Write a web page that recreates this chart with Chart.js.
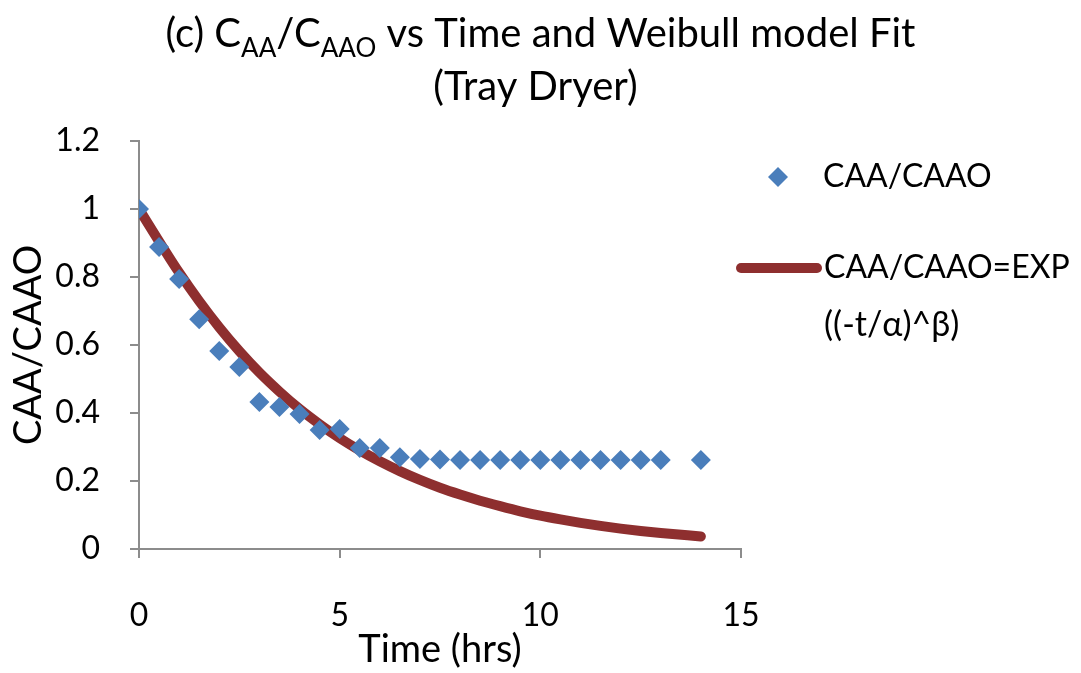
<!DOCTYPE html>
<html>
<head>
<meta charset="utf-8">
<script src="https://cdn.jsdelivr.net/npm/chart.js@4.4.0/dist/chart.umd.min.js"></script>
<style>
html, body { margin: 0; padding: 0; background: #fff; }
#wrap { width: 1081px; height: 673px; }
</style>
</head>
<body>
<div id="wrap"><canvas id="weibullChart"></canvas></div>
<script>
// measured CAA/CAAO values
const timeHrs = [0, 0.5, 1, 1.5, 2, 2.5, 3, 3.5, 4, 4.5, 5, 5.5, 6, 6.5, 7, 7.5, 8, 8.5, 9, 9.5, 10, 10.5, 11, 11.5, 12, 12.5, 13, 14]
const caaRatio = [1.0, 0.888, 0.794, 0.676, 0.582, 0.535, 0.432, 0.418, 0.397, 0.350, 0.353, 0.297, 0.297, 0.270, 0.265, 0.263, 0.262, 0.262, 0.262, 0.262, 0.262, 0.262, 0.262, 0.262, 0.262, 0.262, 0.262, 0.262]

// Weibull fit curve
const fitTime = [0, 0.5, 1, 1.5, 2, 2.5, 3, 3.5, 4, 4.5, 5, 5.5, 6, 6.5, 7, 7.5, 8, 8.5, 9, 9.5, 10, 10.5, 11, 11.5, 12, 12.5, 13, 14]
const fitRatio = [1.0, 0.905, 0.813, 0.729, 0.652, 0.582, 0.519, 0.463, 0.412, 0.367, 0.326, 0.290, 0.258, 0.229, 0.203, 0.180, 0.160, 0.142, 0.126, 0.111, 0.098, 0.087, 0.077, 0.068, 0.060, 0.053, 0.047, 0.037]

const seriesLabels = ['CAA/CAAO', 'CAA/CAAO=EXP ((-t/α)^β)']

const fontFamily = 'Lato, "Open Sans", sans-serif'
const axisGray = '#8c8c8c'

// title with subscripts
const titlePlugin = {
    id: 'subTitle',
    afterDraw(chart) {
        const ctx = chart.ctx
        const parts = [
            { t: '(c) C', sub: false },
            { t: 'AA', sub: true },
            { t: '/C', sub: false },
            { t: 'AAO', sub: true },
            { t: ' vs Time and Weibull model Fit', sub: false }
        ]
        const big = '40px ' + fontFamily
        const small = '26px ' + fontFamily
        ctx.save()
        ctx.fillStyle = '#000'
        ctx.textBaseline = 'alphabetic'
        let total = 0
        parts.forEach(p => {
            ctx.font = p.sub ? small : big
            p.w = ctx.measureText(p.t).width
            total += p.w
        })
        let x = chart.width / 2 - total / 2
        parts.forEach(p => {
            ctx.font = p.sub ? small : big
            ctx.textAlign = 'left'
            ctx.fillText(p.t, x, p.sub ? 57 : 47)
            x += p.w
        })
        ctx.font = big
        ctx.textAlign = 'center'
        ctx.fillText('(Tray Dryer)', chart.width / 2 - 5, 100)
        ctx.restore()
    }
}

// legend on the right
const legendPlugin = {
    id: 'sideLegend',
    afterDraw(chart) {
        const ctx = chart.ctx
        const ds = chart.data.datasets
        const left = chart.chartArea.right
        ctx.save()
        ctx.font = '32px ' + fontFamily
        ctx.fillStyle = '#000'
        ctx.textBaseline = 'middle'
        ctx.textAlign = 'left'

        // diamond
        const cx = left + 37, cy = 177, r = 10
        ctx.fillStyle = ds[0].backgroundColor
        ctx.beginPath()
        ctx.moveTo(cx, cy - r)
        ctx.lineTo(cx + r, cy)
        ctx.lineTo(cx, cy + r)
        ctx.lineTo(cx - r, cy)
        ctx.closePath()
        ctx.fill()
        ctx.fillStyle = '#000'
        ctx.fillText(ds[0].label, left + 82, cy)

        // line
        const ly = 268
        ctx.strokeStyle = ds[1].borderColor
        ctx.lineWidth = 10
        ctx.lineCap = 'round'
        ctx.beginPath()
        ctx.moveTo(left + 0, ly)
        ctx.lineTo(left + 76, ly)
        ctx.stroke()
        const words = ds[1].label.split(' ')
        ctx.fillText(words[0], left + 83, ly)
        ctx.font = '34px ' + fontFamily
        ctx.fillText(words.slice(1).join(' '), left + 83, ly + 57)
        ctx.restore()
    }
}

const context = document.getElementById('weibullChart').getContext('2d')

new Chart(context, {
    type: 'scatter',
    data: {
        datasets: [{
            label: seriesLabels[0],
            data: timeHrs.map((t, i) => ({ x: t, y: caaRatio[i] })),
            pointStyle: 'rectRot',
            pointRadius: 10,
            pointHoverRadius: 10,
            backgroundColor: '#4a7ebb',
            borderColor: '#4a7ebb',
            borderWidth: 0,
            order: 1
        }, {
            label: seriesLabels[1],
            data: fitTime.map((t, i) => ({ x: t, y: fitRatio[i] })),
            showLine: true,
            pointRadius: 0,
            borderColor: '#8e2f2f',
            backgroundColor: '#8e2f2f',
            borderWidth: 10,
            borderCapStyle: 'round',
            cubicInterpolationMode: 'monotone',
            order: 2
        }]
    },
    options: {
        responsive: true,
        maintainAspectRatio: false,
        animation: false,
        layout: {
            padding: { top: 141, right: 340, left: 0, bottom: 0 }
        },
        plugins: {
            legend: { display: false },
            tooltip: { enabled: false }
        },
        scales: {
            x: {
                type: 'linear',
                min: 0,
                max: 15,
                afterFit: scale => { scale.height = 124 },
                ticks: {
                    stepSize: 5,
                    color: '#000',
                    padding: 38,
                    font: { size: 32, family: fontFamily }
                },
                grid: {
                    drawOnChartArea: false,
                    tickLength: 9,
                    color: axisGray,
                    lineWidth: 2
                },
                border: { color: axisGray, width: 2 },
                title: {
                    display: true,
                    text: 'Time (hrs)',
                    color: '#000',
                    padding: { top: 0, bottom: 0 },
                    font: { size: 38, family: fontFamily }
                }
            },
            y: {
                min: 0,
                max: 1.2,
                afterFit: scale => { scale.width = 139 },
                ticks: {
                    stepSize: 0.2,
                    color: '#000',
                    padding: 30,
                    font: { size: 32, family: fontFamily },
                    callback: value => String(Math.round(value * 10) / 10)
                },
                grid: {
                    drawOnChartArea: false,
                    tickLength: 9,
                    color: axisGray,
                    lineWidth: 2
                },
                border: { color: axisGray, width: 2 },
                title: {
                    display: true,
                    text: 'CAA/CAAO',
                    color: '#000',
                    padding: { top: 6, bottom: 0 },
                    font: { size: 38, family: fontFamily }
                }
            }
        }
    },
    plugins: [titlePlugin, legendPlugin]
});
</script>
</body>
</html>
